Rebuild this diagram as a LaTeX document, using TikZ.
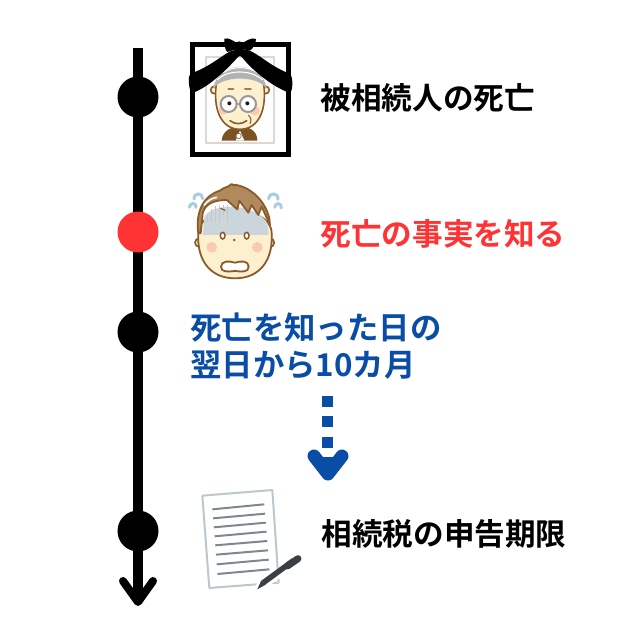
\documentclass[tikz,border=0pt]{standalone}
\usepackage{fontspec}
\setmainfont{Noto Sans CJK JP}[BoldFont={Noto Sans CJK JP Bold}]
\usetikzlibrary{calc}
\definecolor{alertred}{HTML}{FF3333}
\definecolor{deepblue}{HTML}{0A4DA6}
\definecolor{skinc}{HTML}{FDF0CF}
\definecolor{outl}{HTML}{8A5A28}
\definecolor{hairc}{HTML}{B08A5C}
\definecolor{cheek}{HTML}{F9C9B0}
\definecolor{bandc}{HTML}{CBD5DC}
\definecolor{sweat}{HTML}{A9CDE0}
\definecolor{paperedge}{HTML}{BCC8CE}
\definecolor{paperline}{HTML}{7C8A90}
\definecolor{penc}{HTML}{3A3F44}
\definecolor{matc}{HTML}{DDD8D0}
\tikzset{
  pt/.style={circle,fill=black,draw=none,minimum size=41pt,inner sep=0pt},
  txt/.style={anchor=west,inner sep=0pt,font=\bfseries\fontsize{30.6}{36}\selectfont},
  spine/.style={line width=10pt,black},
  illus/.style={x=0.3333pt,y=-0.3333pt},
  blueblock/.style={fill=deepblue,draw=none}
}
\begin{document}
\begin{tikzpicture}[x=1pt,y=-1pt]
\useasboundingbox (0,0) rectangle (640,640);
\fill[white] (0,0) rectangle (640,640);

% time axis
\coordinate (top) at (138,48);
\coordinate (bot) at (138,602);
\coordinate (barbL) at (123,581);
\coordinate (barbR) at (153,581);
\draw[spine] (top) -- (bot);
\draw[spine,line width=8pt,line cap=round,line join=round] (barbL) -- (bot) -- (barbR);
\node[pt] (p1) at (138,97) {};
\node[pt,fill=alertred] (p2) at (138,232) {};
\node[pt] (p3) at (138,332) {};
\node[pt] (p4) at (138,531) {};

% labels
\node[txt] (t1) at (320.5,98) {被相続人の死亡};
\node[txt,text=alertred] (t2) at (320.5,234) {死亡の事実を知る};
\node[txt,text=deepblue,font=\bfseries\fontsize{31.4}{37}\selectfont,align=left] (t3) at (190,346) {死亡を知った日の\\翌日から10カ月};
\node[txt] (t4) at (321.5,534) {相続税の申告期限};

% dotted arrow
\fill[blueblock] (322,396) rectangle (333,407);
\fill[blueblock] (322,416) rectangle (333,427);
\fill[blueblock] (322,437) rectangle (333,448);
\fill[deepblue] (322,457) rectangle (334,470);
\draw[deepblue,line width=13pt,line cap=round,line join=round] (314,456) -- (328,474) -- (342,456);

% framed portrait
\begin{scope}[shift={(170,30)},illus]
  \draw[matc,line width=2pt] (108,82) rectangle (312,340);
  \draw[black,line width=5pt] (68,44) rectangle (355,373);
  % shoulders
  \fill[outl!90!black] (155,332) .. controls (158,300) and (185,290) .. (210,290) .. controls (235,290) and (262,300) .. (262,332) -- cycle;
  \fill[white] (197,332) -- (210,302) -- (223,332) -- cycle;
  \fill[white,draw=outl,line width=0.6pt] (206,318) circle (8);
  % ears and head
  \filldraw[fill=skinc,draw=outl,line width=1.6pt] (133,180) circle (11);
  \filldraw[fill=skinc,draw=outl,line width=1.6pt] (287,180) circle (11);
  \filldraw[fill=skinc,draw=outl,line width=1.6pt] (138,170) .. controls (138,110) and (282,110) .. (282,170) .. controls (290,250) and (260,298) .. (210,298) .. controls (160,298) and (130,250) .. (138,170) -- cycle;
  % grey hair with combed highlights
  \fill[black!30] (130,178) .. controls (140,88) and (280,88) .. (290,178) .. controls (270,135) and (150,135) .. (130,178) -- cycle;
  \draw[white,line width=1.1pt] (142,150) .. controls (170,118) and (245,118) .. (278,150);
  \draw[white,line width=1.1pt] (160,128) .. controls (185,108) and (235,108) .. (262,128);
  % brows, glasses, eyes
  \draw[outl!80,line width=2pt,line cap=round] (175,178) -- (190,178) (225,178) -- (243,178);
  \fill[cheek] (160,240) circle (14) (255,242) circle (14);
  \draw[black!40,line width=2pt,fill=white] (176,222) circle (24) (234,222) circle (24);
  \draw[black!40,line width=2pt] (200,222) -- (210,222);
  \fill[black!80!brown] (178,220) circle (6) (232,220) circle (6);
  \draw[outl,line width=1.6pt,line cap=round] (180,272) .. controls (195,284) and (215,284) .. (230,272);
  \draw[outl,line width=1pt] (235,255) .. controls (245,265) and (245,275) .. (240,282);
  % mourning ribbon
  \fill[black,rounded corners=3pt] (195,60) .. controls (165,68) and (125,108) .. (58,132) .. controls (55,155) and (58,175) .. (65,190) .. controls (115,170) and (165,125) .. (210,74) .. controls (250,125) and (310,170) .. (362,190) .. controls (368,170) and (368,150) .. (362,132) .. controls (300,108) and (262,68) .. (225,58) -- cycle;
  \fill[black] (205,42) .. controls (190,32) and (175,22) .. (163,26) .. controls (162,42) and (165,60) .. (172,66) .. controls (185,62) and (195,60) .. (205,54) -- cycle;
  \fill[black] (212,42) .. controls (225,35) and (245,20) .. (258,27) .. controls (258,40) and (250,55) .. (240,62) .. controls (230,60) and (220,58) .. (212,54) -- cycle;
  \fill[black] (208,47) circle (13);
  \fill[black] (198,50) -- (218,50) -- (228,68) -- (210,76) -- (190,68) -- cycle;
\end{scope}

% worried face
\begin{scope}[shift={(170,170)},illus]
  \draw[sweat,line width=3pt,line cap=round] (72,87) .. controls (72,66) and (98,68) .. (98,86);
  \draw[sweat,line width=3pt,line cap=round] (58,112) .. controls (60,96) and (80,98) .. (78,112);
  \draw[sweat,line width=3pt,line cap=round] (296,86) .. controls (298,66) and (326,68) .. (324,88);
  \draw[sweat,line width=3pt,line cap=round] (314,112) .. controls (316,96) and (336,98) .. (334,114);
  \filldraw[fill=skinc,draw=outl,line width=1.6pt] (88,218) circle (13);
  \filldraw[fill=skinc,draw=outl,line width=1.6pt] (300,218) circle (13);
  \filldraw[fill=skinc,draw=outl,line width=1.8pt] (85,190) .. controls (85,100) and (305,100) .. (305,190) .. controls (310,270) and (270,325) .. (195,325) .. controls (120,325) and (80,270) .. (85,190) -- cycle;
  % pale band across the forehead
  \fill[bandc] (99,195) -- (103,140) .. controls (130,95) and (260,100) .. (292,160) -- (296,195) -- cycle;
  \draw[black!22,line width=1pt] (112,155) -- (112,135) (124,155) -- (124,118) (136,155) -- (136,108) (148,155) -- (148,105) (160,135) -- (160,105) (172,155) -- (172,105);
  % hair
  \filldraw[fill=hairc,draw=outl,line width=1.8pt,line join=round] (85,190) .. controls (75,120) and (105,75) .. (150,62) .. controls (160,52) and (175,52) .. (185,42) .. controls (190,48) and (195,48) .. (193,44) .. controls (240,50) and (285,90) .. (298,145) -- (300,165) -- (275,110) -- (265,135) -- (245,105) -- (235,128) -- (208,92) -- (202,118) -- (170,90) .. controls (135,90) and (105,100) .. (98,130) -- (92,190) -- cycle;
  \draw[white,line width=1.6pt,line cap=round] (103,105) .. controls (112,92) and (125,85) .. (140,82);
  \draw[outl,line width=1.2pt,line cap=round] (152,115) -- (165,121);
  \fill[cheek] (125,232) circle (16) (262,232) circle (16);
  \filldraw[fill=white,draw=outl,line width=1.5pt] (158,197) ellipse (7 and 10);
  \filldraw[fill=white,draw=outl,line width=1.5pt] (230,197) ellipse (7 and 10);
  \fill[outl] (193,210) circle (4);
  \filldraw[fill=white,draw=outl,line width=1.8pt] (153,290) .. controls (155,272) and (175,272) .. (195,278) .. controls (215,272) and (235,272) .. (236,290) .. controls (236,308) and (215,305) .. (195,303) .. controls (175,305) and (153,308) .. (153,290) -- cycle;
\end{scope}

% sheet of paper and pen
\begin{scope}[shift={(180,470)},illus]
  \filldraw[fill=white,draw=paperedge,line width=2pt,line join=round] (67,77) -- (277,60) -- (296,338) -- (88,354) -- cycle;
  \foreach \ya/\yb [count=\i from 0] in {118/103,145/131,172/158,199/185,226/213,254/241,283/269,312/298}
    \draw[paperline,line width=2pt] ({97+\i*2.2},\ya) -- ({253+\i*2.2},\yb);
  \draw[white,line width=9pt,line cap=round] (240,350) -- (352,270);
  \draw[penc,line width=5.5pt,line cap=butt] (250,338) -- (340,272);
  \draw[penc,line width=7pt,line cap=round] (322,288) -- (354,266);
  \fill[penc] (244,331) -- (257,344) -- (232,358) -- cycle;
\end{scope}
\end{tikzpicture}
\end{document}
